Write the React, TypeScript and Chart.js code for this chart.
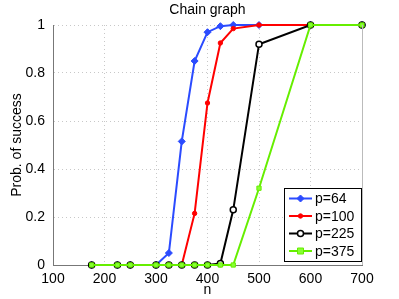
import React, { useEffect, useRef } from "react";
import { Chart, registerables } from "chart.js";

Chart.register(...registerables);

const nValues = [175, 225, 250, 300, 325, 350, 375, 400, 425, 450, 500, 600, 700];
const p64 = [0, 0, 0, 0, 0.05, 0.515, 0.85, 0.97, 0.995, 1, 1, 1, 1];
const p100 = [0, 0, 0, 0, 0, 0, 0.215, 0.675, 0.925, 0.985, 1, 1, 1];
const p225 = [0, 0, 0, 0, 0, 0, 0, 0, 0.006, 0.23, 0.92, 1, 1];
const p375 = [0, 0, 0, 0, 0, 0, 0, 0, 0, 0, 0.32, 1, 1];
const seriesLabels = ["p=64", "p=100", "p=225", "p=375"];
const xTicks = [100, 200, 300, 400, 500, 600, 700];
const yTicks = [0, 0.2, 0.4, 0.6, 0.8, 1];

const FONT = "'Liberation Sans', Arial, sans-serif";

const styles = [
  { color: "#2b4bff", fill: "#2b4bff", point: "rectRot", radius: 3.5, border: 1 },
  { color: "#ff0000", fill: "#ff0000", point: "circle", radius: 2.2, border: 1 },
  { color: "#000000", fill: "#ffffff", point: "circle", radius: 3, border: 1.5 },
  { color: "#66ee00", fill: "#88ff33", point: "rect", radius: 3, border: 1 },
];

const toPts = (ys: number[]) => nValues.map((x, i) => ({ x, y: ys[i] }));

const overlayPlugin = {
  id: "overlay",
  afterDraw(chart: any) {
    const ctx = chart.ctx;
    const a = chart.chartArea;
    ctx.save();
    // title
    ctx.fillStyle = "#000";
    ctx.font = `14px ${FONT}`;
    ctx.textAlign = "center";
    ctx.textBaseline = "middle";
    ctx.fillText("Chain graph", (a.left + a.right) / 2, 10);
    // box right edge
    ctx.strokeStyle = "#bbbbbb";
    ctx.lineWidth = 1;
    ctx.beginPath();
    ctx.moveTo(a.right + 0.5, a.top);
    ctx.lineTo(a.right + 0.5, a.bottom);
    ctx.stroke();
    // legend
    const bx = 284.5, by = 188.5, bw = 77, bh = 73;
    ctx.fillStyle = "#ffffff";
    ctx.fillRect(bx, by, bw, bh);
    ctx.strokeStyle = "#000";
    ctx.lineWidth = 1;
    ctx.strokeRect(bx, by, bw, bh);
    const rows = [198.5, 216, 233.5, 251];
    seriesLabels.forEach((lab, i) => {
      const s = styles[i];
      const y = rows[i];
      ctx.strokeStyle = s.color;
      ctx.lineWidth = 2;
      ctx.beginPath();
      ctx.moveTo(289, y);
      ctx.lineTo(312, y);
      ctx.stroke();
      ctx.fillStyle = s.fill;
      ctx.strokeStyle = s.color;
      ctx.lineWidth = s.border;
      const cx = 300.5;
      const r = s.radius;
      ctx.beginPath();
      if (s.point === "rectRot") {
        ctx.moveTo(cx, y - r);
        ctx.lineTo(cx + r, y);
        ctx.lineTo(cx, y + r);
        ctx.lineTo(cx - r, y);
        ctx.closePath();
      } else if (s.point === "rect") {
        ctx.rect(cx - r, y - r, 2 * r, 2 * r);
      } else {
        ctx.arc(cx, y, r, 0, Math.PI * 2);
      }
      ctx.fill();
      ctx.stroke();
      ctx.fillStyle = "#000";
      ctx.font = `14px ${FONT}`;
      ctx.textAlign = "left";
      ctx.textBaseline = "middle";
      ctx.fillText(lab, 315, y + 1);
    });
    ctx.restore();
  },
};

export default function App() {
  const ref = useRef<HTMLCanvasElement | null>(null);
  useEffect(() => {
    if (!ref.current) return;
    const all = [p64, p100, p225, p375];
    const chart = new Chart(ref.current, {
      type: "line",
      data: {
        datasets: all.map((ys, i) => ({
          label: seriesLabels[i],
          data: toPts(ys),
          borderColor: styles[i].color,
          backgroundColor: styles[i].fill,
          pointBorderColor: styles[i].color,
          pointBackgroundColor: styles[i].fill,
          pointStyle: styles[i].point as any,
          pointRadius: styles[i].radius,
          pointBorderWidth: styles[i].border,
          borderWidth: 2,
          tension: 0,
          order: 4 - i,
          clip: 6,
        })),
      },
      options: {
        responsive: false,
        animation: false,
        devicePixelRatio: 1,
        layout: { padding: { top: 25, right: 37, left: 0, bottom: 0 } },
        plugins: {
          legend: { display: false },
          tooltip: { enabled: false },
          title: { display: false },
        },
        scales: {
          x: {
            type: "linear",
            min: 100,
            max: 700,
            afterBuildTicks: (s: any) => {
              s.ticks = xTicks.map((v) => ({ value: v }));
            },
            afterFit: (s: any) => {
              s.height = 34;
            },
            ticks: {
              color: "#000",
              font: { family: FONT, size: 14 },
              padding: 6,
              maxRotation: 0,
              callback: (v: any) => String(v),
            },
            grid: {
              color: "#c8c8c8",
              drawTicks: false,
            },
            border: { display: true, color: "#777", dash: [1, 3] },
            title: {
              display: true,
              text: "n",
              color: "#000",
              font: { family: FONT, size: 14 },
              padding: { top: 0, bottom: 0 },
            },
          },
          y: {
            type: "linear",
            min: 0,
            max: 1,
            afterBuildTicks: (s: any) => {
              s.ticks = yTicks.map((v) => ({ value: v }));
            },
            afterFit: (s: any) => {
              s.width = 53;
            },
            ticks: {
              color: "#000",
              font: { family: FONT, size: 14 },
              padding: 8,
              callback: (v: any) => String(v),
            },
            grid: {
              color: "#c8c8c8",
              drawTicks: false,
            },
            border: { display: true, color: "#777", dash: [1, 3] },
            title: {
              display: true,
              text: "Prob. of success",
              color: "#000",
              font: { family: FONT, size: 14 },
              padding: { top: 9, bottom: 2 },
            },
          },
        },
      } as any,
      plugins: [overlayPlugin],
    });
    return () => chart.destroy();
  }, []);
  return (
    <div style={{ position: "absolute", left: 0, top: 0, width: 399, height: 299, background: "#fff" }}>
      <canvas ref={ref} width={399} height={299} style={{ display: "block" }} />
    </div>
  );
}
